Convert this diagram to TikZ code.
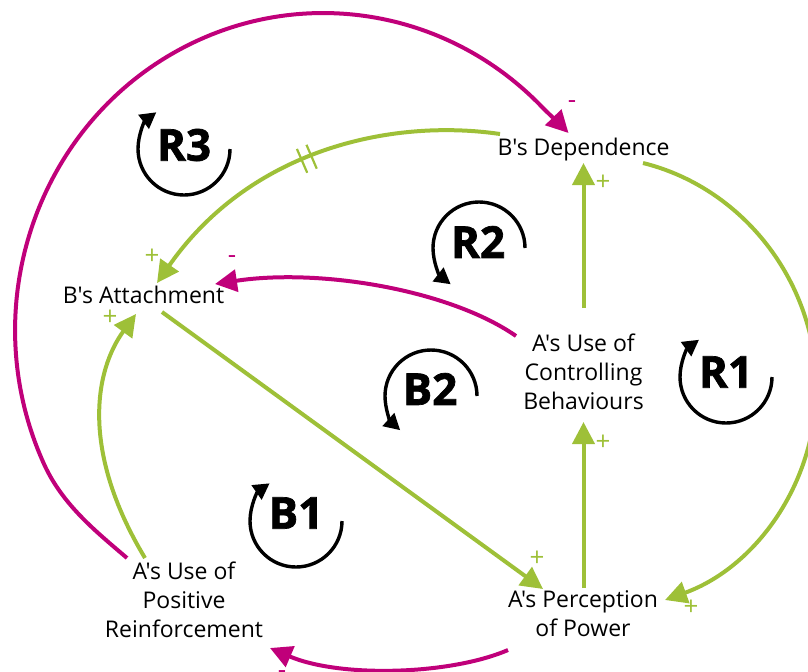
\documentclass[tikz,border=0pt]{standalone}
\usepackage{fontspec}
\setmainfont{Open Sans}[Ligatures=TeXOff]
\newfontfamily\loopfont{Open Sans}[FakeBold=1.6]
\usetikzlibrary{arrows.meta,calc,decorations.markings}
\definecolor{cgreen}{RGB}{158,192,56}
\definecolor{cmag}{RGB}{192,0,122}
\begin{document}
\begin{tikzpicture}[x=0.5pt,y=0.5pt,
  varnode/.style={align=center,inner sep=0pt,font=\fontsize{11.5}{14.5}\selectfont,
    execute at begin node=\strut,execute at end node=\strut},
  poslink/.style={draw=cgreen,line width=2pt,-{Triangle[length=11pt,width=11pt]}},
  neglink/.style={draw=cmag,line width=2pt,-{Triangle[length=11pt,width=11pt]}},
  looparrow/.style={draw=black,line width=1.7pt,-{Triangle[length=8pt,width=8.5pt]}},
  looplabel/.style={font=\loopfont\fontsize{22}{22}\selectfont\bfseries,inner sep=0pt},
  psign/.style={text=cgreen,font=\fontsize{13}{13}\selectfont,inner sep=0pt},
  nsign/.style={text=cmag,font=\fontsize{13}{13}\selectfont,inner sep=0pt}]
\useasboundingbox (0,0) rectangle (808,-671);
\clip (0,0) rectangle (808,-671);

% variables
\node[varnode] (dep) at (583.5,-149.2) {B's Dependence};
\node[varnode] (att) at (143.5,-297.2) {B's Attachment};
\node[varnode] (acb) at (583.5,-376.2) {A's Use of\\Controlling\\Behaviours};
\node[varnode] (app) at (583,-618.2) {A's Perception\\of Power};
\node[varnode] (apr) at (184,-603.7) {A's Use of\\Positive\\Reinforcement};

% R3 big magenta arc: apr -> dep
\draw[neglink] ($(apr)+(-57,45.7)$) .. controls (96.6,-532) and (62.6,-505) .. (44,-464)
  arc[start angle=205,end angle=45,x radius=308,y radius=317]
  .. controls (549.9,-115.1) and (559.5,-123.7) .. ($(dep)+(-15,16.2)$);
% delayed green: dep -> att
\draw[poslink,postaction={decorate,decoration={markings,
    mark=at position 0.5 with {\draw[-,cgreen,line width=1.1pt] (-2.6pt,-6.5pt)--(-2.6pt,6.5pt) (2.6pt,-6.5pt)--(2.6pt,6.5pt);}}}]
  ($(dep)+(-83.5,15.2)$) .. controls (390,-118) and (250,-150) .. ($(att)+(13.5,14.2)$);
% magenta acb -> att
\draw[neglink] ($(acb)+(-67.5,40.2)$) .. controls (450,-290) and (320,-268) .. ($(att)+(71.5,13.2)$);
% acb -> dep
\draw[poslink] ($(acb)+(0,68.2)$) -- ($(dep)+(0,-13.8)$);
% app -> acb
\draw[poslink] ($(app)+(0.5,30.2)$) -- ($(acb)+(0,-45.8)$);
% att -> app
\draw[poslink] ($(att)+(18.5,-14.8)$) -- ($(app)+(-40,29.2)$);
% R1 green arc: dep -> app
\draw[poslink] ($(dep)+(59.5,-13.8)$) .. controls (740,-187) and (811,-276) .. (816,-376)
  .. controls (821,-476) and (759,-566) .. ($(app)+(82,18.2)$);
% apr -> att
\draw[poslink] ($(apr)+(-39,45.7)$) .. controls (80,-450) and (95,-370) .. ($(att)+(-7.5,-16.8)$);
% app -> apr
\draw[neglink] ($(app)+(-75,-31.8)$) .. controls (450,-675) and (340,-678) .. ($(apr)+(86,-44.3)$);

% polarity signs
\node[nsign] (s1) at (572,-105) {-};
\node[psign] (s2) at (603,-183) {+};
\node[psign] (s3) at (152,-257) {+};
\node[nsign] (s4) at (232,-260) {-};
\node[psign] (s5) at (110,-318) {+};
\node[psign] (s6) at (603,-443) {+};
\node[psign] (s7) at (537,-559) {+};
\node[psign] (s8) at (691,-608) {+};
\node[nsign] (s9) at (282,-675) {-};

% loop markers
\draw[looparrow] (184,-149) ++(0:46) arc[start angle=0,end angle=-233,radius=46];
\node[looplabel] (r3) at (184,-145) {R3};
\draw[looparrow] (726,-377) ++(0:46) arc[start angle=0,end angle=-234,radius=46];
\node[looplabel] (r1) at (726,-372) {R1};
\draw[looparrow] (296,-521) ++(0:46) arc[start angle=0,end angle=-235,radius=46];
\node[looplabel] (b1) at (296,-513) {B1};
\draw[looparrow] (479,-248) ++(0:46) arc[start angle=0,end angle=232,radius=46];
\node[looplabel] (r2) at (478,-242) {R2};
\draw[looparrow] (431,-396) ++(0:46) arc[start angle=0,end angle=228,radius=46];
\node[looplabel] (b2) at (430,-389) {B2};
\end{tikzpicture}
\end{document}
